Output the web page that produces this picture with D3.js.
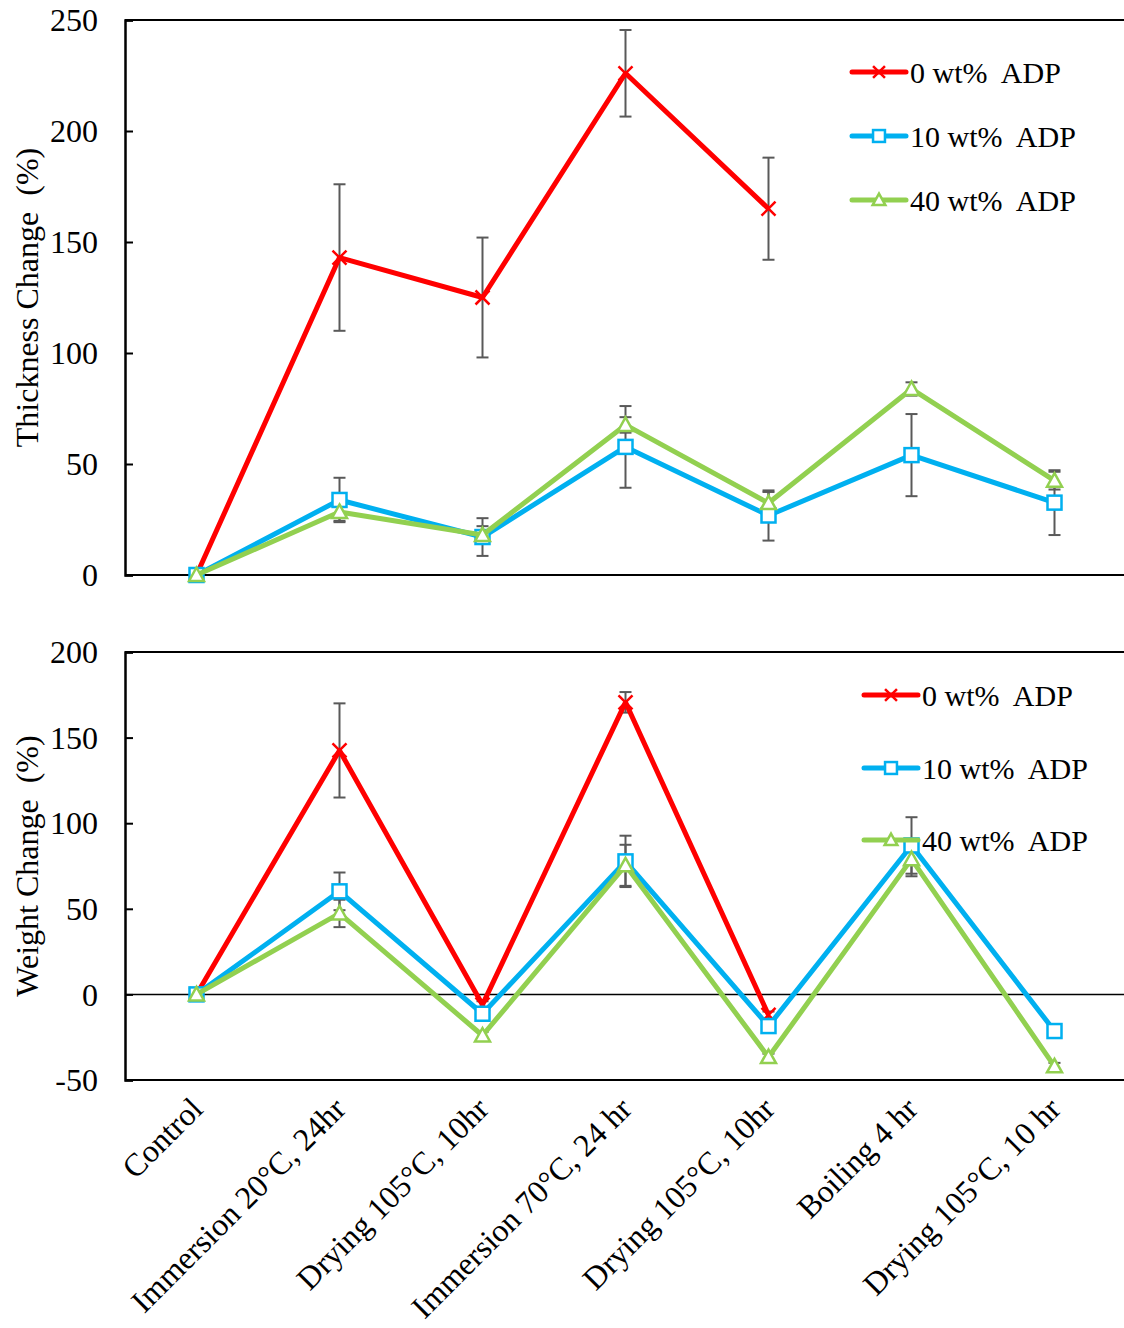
<!DOCTYPE html>
<html>
<head>
<meta charset="utf-8">
<script src="https://cdn.jsdelivr.net/npm/d3@7"></script>
<style>
  body { margin: 0; background: #fff; }
  text { font-family: "Liberation Serif", "Times New Roman", serif; fill: #000; }
</style>
</head>
<body>
<script>
const categories = ['Control', 'Immersion 20°C, 24hr', 'Drying 105°C, 10hr', 'Immersion 70°C, 24 hr',
  'Drying 105°C, 10hr', 'Boiling 4 hr', 'Drying 105°C, 10 hr'];
const seriesNames = ['0 wt%  ADP', '10 wt%  ADP', '40 wt%  ADP'];
const colors = ['#ff0000', '#00b0f0', '#92d050'];

// thickness change (%) and its error, null = not measured
const thick0 = [0, 143, 125, 226, 165, null, null];
const thick0Err = [0, 33, 27, 19.5, 23, null, null];
const thick10 = [0, 33.8, 17.1, 57.7, 26.8, 54, 32.6];
const thick10Err = [0, 10, 8.5, 18.4, 11.3, 18.5, 14.6];
const thick40 = [0, 28.4, 18, 67.6, 32.4, 83.8, 42.5];
const thick40Err = [0, 4, 4, 3.5, 5, 3, 4];

// weight change (%)
const weight0 = [0, 142.5, -6, 170.6, -12, null, null];
const weight0Err = [0, 27.5, 2, 6, 2, null, null];
const weight10 = [0, 60.2, -11.3, 77.7, -18.5, 87, -21.4];
const weight10Err = [0, 11, 2, 15, 2, 16.5, 2];
const weight40 = [0, 47.3, -24, 75.4, -36.6, 79, -42];
const weight40Err = [0, 8, 2, 12, 2, 10, 2];

const yTicksTop = [0, 50, 100, 150, 200, 250];
const yTicksBot = [-50, 0, 50, 100, 150, 200];

const width = 1124, height = 1328;
const svg = d3.select('body').append('svg').attr('width', width).attr('height', height);

const x = d3.scalePoint().domain(d3.range(categories.length)).range([125, 1126]).padding(0.5);

function panel(opts) {
  let y = d3.scaleLinear().domain(opts.domain).range([opts.bottom, opts.top]);
  let g = svg.append('g');

  // frame: top line, bottom axis, zero line
  g.append('line').attr('x1', 125).attr('x2', 1126).attr('y1', opts.top).attr('y2', opts.top)
    .attr('stroke', '#000').attr('stroke-width', 2);
  g.append('line').attr('x1', 125).attr('x2', 1126).attr('y1', opts.bottom).attr('y2', opts.bottom)
    .attr('stroke', '#000').attr('stroke-width', 2);
  if (opts.domain[0] < 0) {
    g.append('line').attr('x1', 125).attr('x2', 1126).attr('y1', y(0)).attr('y2', y(0))
      .attr('stroke', '#000').attr('stroke-width', 1.5);
  }

  let ax = g.append('g').attr('transform', 'translate(125,0)')
    .call(d3.axisRight(y).tickValues(opts.ticks).tickSize(8).tickFormat(''));
  ax.select('.domain').attr('stroke-width', 2.5);
  ax.selectAll('.tick line').attr('stroke-width', 2);

  g.selectAll('text.ytick').data(opts.ticks).join('text')
    .attr('class', 'ytick')
    .attr('x', 98).attr('y', d => y(d)).attr('dy', '0.35em')
    .attr('text-anchor', 'end').style('font-size', '32px')
    .text(d => d);

  g.append('text')
    .attr('transform', `translate(38,${(opts.top + opts.bottom) / 2}) rotate(-90)`)
    .attr('text-anchor', 'middle').style('font-size', '32px')
    .attr('xml:space', 'preserve')
    .text(opts.title);

  // error bars
  opts.series.forEach((s, si) => {
    s.vals.forEach((v, i) => {
      if (v == null || !s.err[i]) return;
      let cx = x(i), y1 = y(v + s.err[i]), y2 = y(v - s.err[i]);
      let e = g.append('g').attr('stroke', '#595959').attr('stroke-width', 2);
      e.append('line').attr('x1', cx).attr('x2', cx).attr('y1', y1).attr('y2', y2);
      e.append('line').attr('x1', cx - 6).attr('x2', cx + 6).attr('y1', y1).attr('y2', y1);
      e.append('line').attr('x1', cx - 6).attr('x2', cx + 6).attr('y1', y2).attr('y2', y2);
    });
  });

  let line = d3.line().defined(d => d[1] != null).x(d => x(d[0])).y(d => y(d[1]));
  opts.series.forEach((s, si) => {
    let pts = s.vals.map((v, i) => [i, v]);
    g.append('path').datum(pts).attr('d', line)
      .attr('fill', 'none').attr('stroke', colors[si]).attr('stroke-width', 5)
      .attr('stroke-linejoin', 'round');
    pts.filter(p => p[1] != null).forEach(p => marker(g, si, x(p[0]), y(p[1])));
  });

  // legend
  seriesNames.forEach((n, si) => {
    let ly = opts.legY[si];
    g.append('line').attr('x1', opts.legX).attr('x2', opts.legX + 54).attr('y1', ly).attr('y2', ly)
      .attr('stroke', colors[si]).attr('stroke-width', 5).attr('stroke-linecap', 'round');
    marker(g, si, opts.legX + 27, ly, 0.85);
    g.append('text').attr('x', opts.legX + 58).attr('y', ly).attr('dy', '0.35em')
      .attr('xml:space', 'preserve')
      .style('font-size', '30px').text(n);
  });
  return y;
}

function marker(g, si, cx, cy, k = 1) {
  if (si === 0) {
    let r = 7 * k;
    g.append('path').attr('d', `M${cx - r},${cy - r}L${cx + r},${cy + r}M${cx - r},${cy + r}L${cx + r},${cy - r}`)
      .attr('stroke', colors[0]).attr('stroke-width', 2.5);
  } else if (si === 1) {
    let r = 7 * k;
    g.append('rect').attr('x', cx - r).attr('y', cy - r).attr('width', 2 * r).attr('height', 2 * r)
      .attr('fill', '#fff').attr('stroke', colors[1]).attr('stroke-width', 2.5);
  } else {
    let r = 7.5 * k;
    g.append('path').attr('d', `M${cx},${cy - r}L${cx + r},${cy + r * 0.8}L${cx - r},${cy + r * 0.8}Z`)
      .attr('fill', '#fff').attr('stroke', colors[2]).attr('stroke-width', 2.5);
  }
}

panel({
  top: 20, bottom: 575, domain: [0, 250], ticks: yTicksTop,
  title: 'Thickness Change  (%)',
  series: [{ vals: thick0, err: thick0Err }, { vals: thick10, err: thick10Err }, { vals: thick40, err: thick40Err }],
  legX: 852, legY: [72, 136, 200]
});

panel({
  top: 652, bottom: 1080, domain: [-50, 200], ticks: yTicksBot,
  title: 'Weight Change  (%)',
  series: [{ vals: weight0, err: weight0Err }, { vals: weight10, err: weight10Err }, { vals: weight40, err: weight40Err }],
  legX: 864, legY: [695, 768, 840]
});

// category labels, rotated
svg.selectAll('text.xlab').data(categories).join('text')
  .attr('class', 'xlab')
  .attr('transform', (d, i) => `translate(${x(i) + 8},${1111}) rotate(-45)`)
  .attr('text-anchor', 'end').style('font-size', '32px')
  .text(d => d);
</script>
</body>
</html>
